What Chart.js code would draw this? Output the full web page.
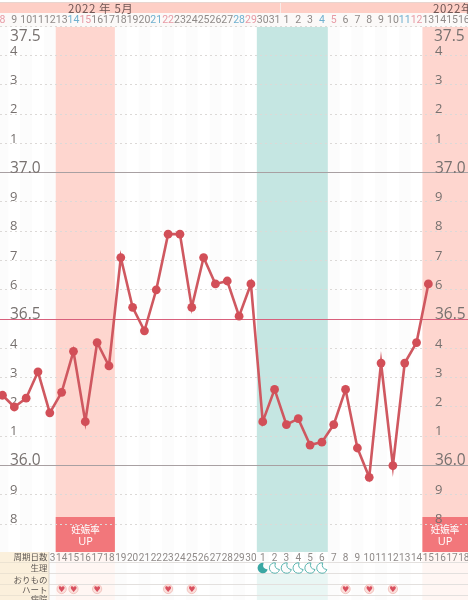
<!DOCTYPE html>
<html>
<head>
<meta charset="utf-8">
<style>
  html, body { margin: 0; padding: 0; background: #fff; overflow: hidden; }
  canvas { display: block; }
</style>
<script src="https://cdn.jsdelivr.net/npm/chart.js@4"></script>
</head>
<body>
<canvas id="chart" width="468" height="600"></canvas>
<script>
// one entry per day, May 8 -> June 16
var dayLabels = ['8','9','10','11','12','13','14','15','16','17','18','19','20','21','22','23','24','25','26','27','28','29','30','31',
  '1','2','3','4','5','6','7','8','9','10','11','12','13','14','15','16'];
var cycleDays = ['','','','','13','14','15','16','17','18','19','20','21','22','23','24','25','26','27','28','29','30',
  '1','2','3','4','5','6','7','8','9','10','11','12','13','14','15','16','17','18'];
var temps = [36.24,36.20,36.23,36.32,36.18,36.25,36.39,36.15,36.42,36.34,36.71,36.54,36.46,36.60,36.79,36.79,36.54,36.71,36.62,36.63,
  36.51,36.62,36.15,36.26,36.14,36.16,36.07,36.08,36.14,36.26,36.06,35.96,36.35,36.00,36.35,36.42,36.62];
var yTicks = [35.8,35.9,36.0,36.1,36.2,36.3,36.4,36.5,36.6,36.7,36.8,36.9,37.0,37.1,37.2,37.3,37.4,37.5];
var yLabels = ['8','9','36.0','1','2','3','4','36.5','6','7','8','9','37.0','1','2','3','4','37.5'];
var blueDays = [6,13,20,27,34];   // saturdays
var pinkDays = [0,7,14,21,28,35]; // sundays
var heartDays = [5,6,8,14,16,29,31,33];
var moonDays = [22,23,24,25,26,27];
var rowNames = ['周期日数','生理','おりもの','ハート','病院'];
var rowCenters = [556.5,568,579.5,589.5,599];

var JP = '"Noto Sans CJK JP", sans-serif';
var NUM = '"Open Sans", "DejaVu Sans", sans-serif';

function bandRect(ctx, x, from, to, top, bottom, color) {
  var left = x.getPixelForValue(from), right = x.getPixelForValue(to);
  ctx.fillStyle = color;
  ctx.fillRect(left, top, right - left, bottom - top);
}

var backdrop = {
  id: 'backdrop',
  beforeDraw: function (chart) {
    var ctx = chart.ctx, x = chart.scales.x, a = chart.chartArea;
    ctx.save();
    ctx.fillStyle = '#fff';
    ctx.fillRect(0, 0, 468, 600);
    // faint day columns
    for (var i = 0; i < dayLabels.length; i += 2) {
      bandRect(ctx, x, i - 0.5, i + 0.5, a.top, 600, '#fcfcfc');
    }
    // header
    ctx.fillStyle = '#e9d5cf';
    ctx.fillRect(0, 2, 468, 1);
    ctx.fillStyle = '#fecfc6';
    ctx.fillRect(0, 3, 468, 10);
    ctx.fillStyle = '#f6ece9';
    ctx.fillRect(280, 3, 1, 10);
    ctx.fillStyle = '#fbf9f8';
    ctx.fillRect(0, 13, 468, 14);
    // bands
    bandRect(ctx, x, 4.5, 9.5, a.top, a.bottom, '#fed6cf');
    bandRect(ctx, x, 21.5, 27.5, a.top, a.bottom, '#c5e6e2');
    bandRect(ctx, x, 35.5, 40, a.top, a.bottom, '#fed6cf');
    // pale continuation under the chart
    bandRect(ctx, x, 4.5, 9.5, 552, 600, '#fff6f3');
    bandRect(ctx, x, 21.5, 27.5, 574, 600, '#e9f6f4');
    bandRect(ctx, x, 35.5, 40, 552, 600, '#fff6f3');
    // baby window boxes
    bandRect(ctx, x, 4.5, 9.5, 517, a.bottom, '#f2777b');
    bandRect(ctx, x, 35.5, 40, 517, a.bottom, '#f2777b');
    ctx.restore();
  },
  afterDraw: function (chart) {
    var ctx = chart.ctx, x = chart.scales.x, y = chart.scales.y;
    ctx.save();
    // month titles
    ctx.fillStyle = '#6f5654';
    ctx.font = '11.5px ' + JP;
    ctx.letterSpacing = '0.6px';
    ctx.textBaseline = 'middle';
    ctx.textAlign = 'left';
    ctx.fillText('2022 年 5月', 68, 8.5);
    ctx.fillText('2022年', 433, 8.5);
    ctx.letterSpacing = '0px';
    // top label is pushed down below the header by the app
    ctx.fillStyle = '#77716f';
    ctx.font = '15.5px ' + NUM;
    ctx.fillText('37.5', 10, y.getPixelForValue(37.5) + 10);
    ctx.fillText('37.5', 434, y.getPixelForValue(37.5) + 10);
    // UP boxes
    ctx.fillStyle = '#fff';
    ctx.textAlign = 'center';
    [85.5, 445].forEach(function (px) {
      ctx.font = '9.5px ' + JP;
      ctx.fillText('妊娠率', px, 529);
      ctx.font = '11px ' + NUM;
      ctx.fillText('UP', px, 542);
    });
    // row lines
    ctx.strokeStyle = '#e3e0de';
    ctx.lineWidth = 1;
    [562.5, 573.5, 584.5, 595.5].forEach(function (v) {
      ctx.beginPath();
      ctx.moveTo(49, v);
      ctx.lineTo(468, v);
      ctx.stroke();
    });
    // row heads
    ctx.fillStyle = '#fbf0dc';
    ctx.fillRect(0, 552, 49, 48);
    ctx.strokeStyle = '#d8d2ca';
    ctx.beginPath();
    ctx.moveTo(49, 552);
    ctx.lineTo(49, 600);
    ctx.stroke();
    ctx.strokeStyle = '#ece3d2';
    [562.5, 573.5, 584.5, 595.5].forEach(function (v) {
      ctx.beginPath();
      ctx.moveTo(0, v);
      ctx.lineTo(49, v);
      ctx.stroke();
    });
    ctx.fillStyle = '#5e5854';
    ctx.font = '8.5px ' + JP;
    ctx.textAlign = 'right';
    rowNames.forEach(function (name, i) {
      ctx.fillText(name, 47.5, rowCenters[i]);
    });
    ctx.textAlign = 'center';
    // hearts
    heartDays.forEach(function (d) {
      var hx = x.getPixelForValue(d), hy = 589;
      ctx.fillStyle = '#fbe0dc';
      ctx.strokeStyle = '#f3c4bf';
      ctx.beginPath();
      ctx.arc(hx, hy, 4.6, 0, Math.PI * 2);
      ctx.fill();
      ctx.stroke();
      ctx.fillStyle = '#d9505f';
      ctx.font = '8px "DejaVu Sans"';
      ctx.fillText('♥', hx, hy + 0.5);
    });
    // moons, first one filled
    moonDays.forEach(function (d, i) {
      var mx = x.getPixelForValue(d), my = 568;
      ctx.beginPath();
      ctx.arc(mx, my, 5.2, -0.45 * Math.PI, 0.1 * Math.PI, true);
      ctx.quadraticCurveTo(mx - 1, my + 0.5, mx + 0.8, my - 5.1);
      ctx.closePath();
      ctx.lineWidth = 1;
      if (i === 0) {
        ctx.fillStyle = '#3aa7a3';
        ctx.fill();
      } else {
        ctx.strokeStyle = '#58b5b0';
        ctx.stroke();
      }
    });
    ctx.restore();
  }
};

function yLabel(value) {
  var i = yTicks.indexOf(value);
  return i < 0 || value === 37.5 ? '' : yLabels[i];
}

function yFont(ctx) {
  var v = ctx.tick ? ctx.tick.value : 0;
  var major = v === 37 || v === 36.5 || v === 36;
  return { family: NUM, size: major ? 15.5 : 13 };
}

function noPadding(s) {
  s.paddingTop = 0;
  s.paddingBottom = 0;
  s.paddingLeft = 0;
  s.paddingRight = 0;
}

function yAxis(padding, showGrid) {
  return {
    position: 'left',
    min: 35.705,
    max: 37.497,
    afterBuildTicks: function (s) {
      s.ticks = yTicks.map(function (v) { return { value: v }; });
    },
    // mirrored labels sit inside the plot, the axis should take no room
    afterFit: function (s) {
      s.width = 0;
      noPadding(s);
    },
    ticks: {
      mirror: true,
      padding: padding,
      labelOffset: -4.5,
      autoSkip: false,
      color: '#77716f',
      font: yFont,
      callback: yLabel
    },
    border: {
      display: false,
      dash: function (ctx) {
        var v = ctx.tick ? ctx.tick.value : 0;
        return v === 37 || v === 36.5 || v === 36 ? [] : [2, 3];
      }
    },
    grid: {
      display: showGrid,
      drawTicks: false,
      lineWidth: 1,
      color: function (ctx) {
        var v = ctx.tick ? ctx.tick.value : 0;
        if (v === 36.5) return '#d8607c';
        if (v === 37 || v === 36) return '#a8a0a2';
        return '#dcd9d7';
      }
    }
  };
}

function dayAxis(position, labels, colorFn, size, height) {
  return {
    type: 'linear',
    position: position,
    min: -0.21,
    max: 39.35,
    afterBuildTicks: function (s) {
      s.ticks = labels.map(function (l, i) { return { value: i }; });
    },
    afterFit: function (s) {
      s.height = height;
      noPadding(s);
    },
    ticks: {
      autoSkip: false,
      maxRotation: 0,
      minRotation: 0,
      padding: 0,
      color: colorFn,
      font: { family: 'Roboto, sans-serif', size: size },
      callback: function (value) { return labels[value]; }
    },
    border: { display: false },
    grid: { display: false, drawTicks: false }
  };
}

function dayColor(ctx) {
  var i = ctx.tick ? ctx.tick.value : 0;
  if (blueDays.indexOf(i) >= 0) return '#6fb0cf';
  if (pinkDays.indexOf(i) >= 0) return '#e79aa5';
  return '#8f8a88';
}

new Chart(document.getElementById('chart'), {
  type: 'line',
  data: {
    datasets: [{
      data: temps.map(function (t, i) { return { x: i, y: t }; }),
      borderColor: '#cf5860',
      backgroundColor: '#d24f58',
      borderWidth: 2.6,
      pointRadius: 4.4,
      pointHoverRadius: 4.4,
      pointBorderWidth: 0,
      tension: 0,
      clip: false,
      xAxisID: 'x',
      yAxisID: 'y'
    }]
  },
  options: {
    responsive: false,
    animation: false,
    layout: { autoPadding: false, padding: { top: 13, bottom: 0, left: 0, right: 0 } },
    plugins: { legend: { display: false }, tooltip: { enabled: false } },
    scales: {
      x: dayAxis('top', dayLabels, dayColor, 10.5, 14),
      x2: dayAxis('bottom', cycleDays, function () { return '#8f8a88'; }, 10, 48),
      y: yAxis(10, true),
      y2: yAxis(435, false)
    }
  },
  plugins: [backdrop]
});
</script>
</body>
</html>
